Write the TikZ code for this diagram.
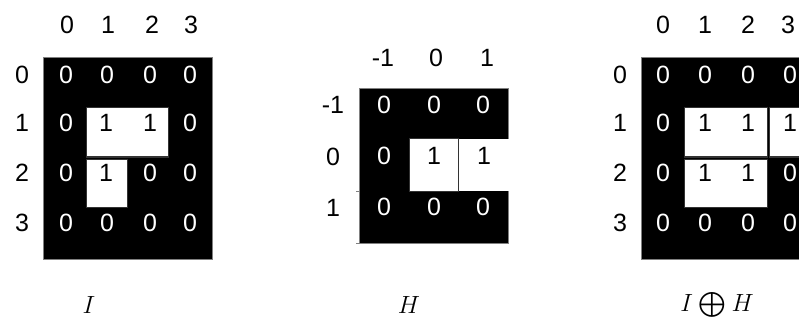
\documentclass[tikz,border=0pt]{standalone}
\usepackage{exscale}
\usepackage{fontspec}
\setmainfont{Liberation Sans}
\begin{document}
\begin{tikzpicture}[x=1pt,y=-1pt,
  dig/.style={font=\fontsize{25}{25}\selectfont, inner sep=0, anchor=center},
  wd/.style={dig, text=white},
  bd/.style={dig, text=black},
  blk/.style={fill=black},
  outl/.style={draw=gray, line width=1pt},
  wcell/.style={fill=white, draw=black!80, line width=1pt},
  lab/.style={font=\fontsize{24.88}{26}\selectfont, inner sep=0, anchor=center}]
\useasboundingbox (0,0) rectangle (799,323);

% ---------- I ----------
\fill[blk] (43,58) rectangle (212,259);
\draw[outl] (43,58) rectangle (212,259);
\draw[wcell] (86,108) rectangle (168,157);
\draw[wcell] (86,159) rectangle (127,207);
\foreach \x/\c in {67/0,108/1,152/2,191/3} \node[bd] (Ic\c) at (\x,25) {\c};
\foreach \y/\r in {75/0,123/1,173/2,223/3} \node[bd] (Ir\r) at (22,\y) {\r};
\foreach \x/\c in {66/0,107/1,150/2,190/3}
  \foreach \y/\r in {75/0,223/3}
    \node[wd] (I\r\c) at (\x,\y) {0};
\node[wd] (I10) at (66,123) {0};
\node[bd] (I11) at (106,123) {1};
\node[bd] (I12) at (150,123) {1};
\node[wd] (I13) at (190,123) {0};
\node[wd] (I20) at (66,173) {0};
\node[bd] (I21) at (106,173) {1};
\node[wd] (I22) at (150,173) {0};
\node[wd] (I23) at (190,173) {0};

% ---------- H ----------
\fill[blk] (359,89) rectangle (508,243);
\fill[white] (409,139) rectangle (512,191);
\draw[outl] (508,139) -- (508,89) -- (359,89) -- (359,243) -- (508,243) -- (508,191);
\draw[outl] (356,191) -- (359,191);
\draw[outl] (356,243) -- (359,243);
\draw[black!80, line width=1pt] (409,139) rectangle (458,191);
\foreach \x/\c/\t in {383/a/-1,436/b/0,487/c/1} \node[bd] (Hc\c) at (\x,58) {\t};
\foreach \y/\r/\t in {105/a/-1,157/b/0,208/c/1} \node[bd] (Hr\r) at (333,\y) {\t};
\foreach \x/\c in {384/a,434/b,483/c}
  \node[wd] (Ha\c) at (\x,105) {0};
\foreach \x/\c in {384/a,434/b,483/c}
  \node[wd] (Hc\c0) at (\x,207) {0};
\node[wd] (Hba) at (384,156) {0};
\node[bd] (Hbb) at (434,156) {1};
\node[bd] (Hbc) at (484,156) {1};

% ---------- I + H ----------
\fill[blk] (641,58) rectangle (800,259);
\draw[outl] (800,58) -- (641,58) -- (641,259) -- (800,259);
\draw[wcell] (684,108) rectangle (767,157);
\draw[wcell] (769,108) rectangle (803,157);
\draw[wcell] (684,159) rectangle (767,207);
\foreach \x/\c in {663/0,705/1,748/2,788/3} \node[bd] (Jc\c) at (\x,25) {\c};
\foreach \y/\r in {75/0,123/1,173/2,223/3} \node[bd] (Jr\r) at (620,\y) {\r};
\foreach \x/\c in {663/0,705/1,748/2,790/3}
  \foreach \y/\r in {75/0,223/3}
    \node[wd] (J\r\c) at (\x,\y) {0};
\node[wd] (J10) at (663,123) {0};
\node[bd] (J11) at (705,123) {1};
\node[bd] (J12) at (748,123) {1};
\node[bd] (J13) at (790,123) {1};
\node[wd] (J20) at (663,173) {0};
\node[bd] (J21) at (705,173) {1};
\node[bd] (J22) at (748,173) {1};
\node[wd] (J23) at (790,173) {0};

% ---------- captions ----------
\node[lab] (capI) at (89,305) {$I$};
\node[lab] (capH) at (409,305) {$H$};
\node[lab] (capIH) at (717,305) {$I\mathbin{\textstyle\bigoplus}H$};
\end{tikzpicture}
\end{document}
